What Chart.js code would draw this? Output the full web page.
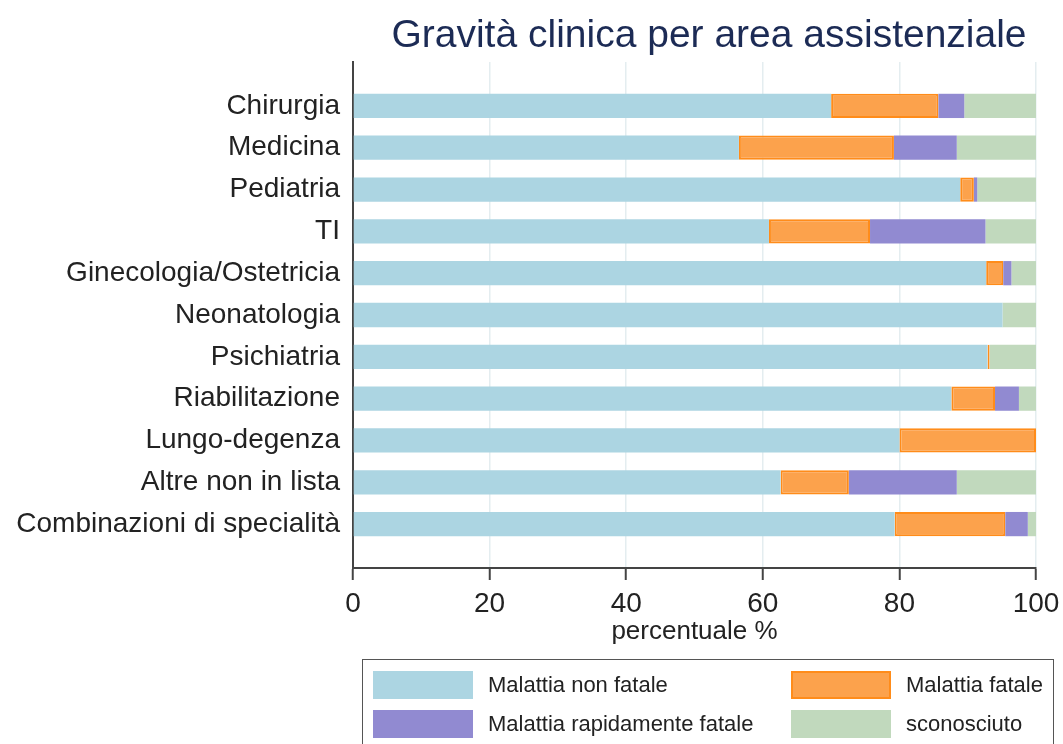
<!DOCTYPE html>
<html lang="it">
<head>
<meta charset="utf-8">
<title>Gravità clinica per area assistenziale</title>
<script src="https://cdn.jsdelivr.net/npm/chart.js@4.4.1/dist/chart.umd.min.js"></script>
<style>
  body { margin: 0; background: #fff; }
  #wrap { position: relative; width: 1063px; height: 744px; overflow: hidden; }
  #legenda {
    position: absolute; left: 362px; top: 659px; width: 692px; height: 110px;
    border: 1.5px solid #555; box-sizing: border-box;
    padding: 11px 0 0 10px;
    display: grid; grid-template-columns: 418px auto; row-gap: 11px;
    align-content: start;
    font-family: "Liberation Sans", Arial, sans-serif; font-size: 22px; color: #222;
  }
  .voce { display: flex; align-items: center; height: 28px; white-space: nowrap; }
  .campione { width: 100px; height: 28px; box-sizing: border-box; margin-right: 15px; }
</style>
</head>
<body>
<div id="wrap">
  <canvas id="grafico" width="1063" height="744"></canvas>
  <div id="legenda"></div>
</div>
<script>
// categorie (dall'alto in basso)
const categorie = [
  "Chirurgia", "Medicina", "Pediatria", "TI", "Ginecologia/Ostetricia",
  "Neonatologia", "Psichiatria", "Riabilitazione", "Lungo-degenza",
  "Altre non in lista", "Combinazioni di specialità"
];

// percentuali
const nonFatale   = [70.0, 56.5, 88.9, 60.9, 92.7, 95.1, 92.9, 87.6, 80.0, 62.6, 79.3];
const fatale      = [15.7, 22.7,  2.0, 14.8,  2.5,  0.0,  0.3,  6.4, 20.0, 10.0, 16.2];
const rapidamente = [ 3.8,  9.2,  0.5, 16.9,  1.2,  0.0,  0.0,  3.5,  0.0, 15.8,  3.3];
const sconosciuto = [10.5, 11.6,  8.6,  7.4,  3.6,  4.9,  6.8,  2.5,  0.0, 11.6,  1.2];

const tickX = [0, 20, 40, 60, 80, 100];

const FONT = "'Liberation Sans', Arial, sans-serif";

// la scala y è lineare per lasciare il margine sopra e sotto le barre
const punti = (valori) => valori.map((v, i) => ({ x: v, y: i }));

const serie = (label, valori, fill, bordo, spessore) => ({
  label,
  data: punti(valori),
  backgroundColor: fill,
  borderColor: bordo,
  borderWidth: spessore,
  borderSkipped: false,
  barPercentage: 0.58,
  categoryPercentage: 1.0,
});

// titolo disegnato a mano (non centrato sul canvas)
const titoloPlugin = {
  id: "titolo",
  afterDraw(chart) {
    const ctx = chart.ctx;
    ctx.save();
    ctx.font = "39px " + FONT;
    ctx.fillStyle = "#1c2b55";
    ctx.textAlign = "center";
    ctx.textBaseline = "middle";
    ctx.fillText("Gravità clinica per area assistenziale", 709, 36);
    ctx.restore();
  }
};

const chart = new Chart(document.getElementById("grafico"), {
  type: "bar",
  data: {
    datasets: [
      serie("Malattia non fatale", nonFatale, "#acd5e2", "#acd5e2", 0),
      serie("Malattia fatale", fatale, "#fca24c", "#ff8c1a", 2),
      serie("Malattia rapidamente fatale", rapidamente, "#918ad1", "#918ad1", 0),
      serie("sconosciuto", sconosciuto, "#c1d9bd", "#c1d9bd", 0),
    ],
  },
  options: {
    indexAxis: "y",
    responsive: false,
    animation: false,
    layout: { padding: { top: 62, left: 12, right: 27, bottom: 99 } },
    plugins: {
      legend: { display: false },
      title: { display: false },
    },
    scales: {
      x: {
        type: "linear",
        stacked: true,
        min: 0,
        max: 100,
        afterBuildTicks: (s) => { s.ticks = tickX.map((v) => ({ value: v })); },
        afterFit: (s) => { s.height = 77; s.paddingRight = 0; },
        grid: {
          color: "#e4edf0",
          lineWidth: 1.5,
          tickColor: "#444",
          tickLength: 12,
          tickWidth: 2,
        },
        border: { color: "#444", width: 2 },
        ticks: {
          padding: 7,
          color: "#222",
          font: { family: FONT, size: 28, lineHeight: 1.2 },
        },
        title: {
          display: true,
          text: "percentuale %",
          color: "#222",
          padding: 0,
          font: { family: FONT, size: 26, lineHeight: 1 },
        },
      },
      y: {
        type: "linear",
        stacked: true,
        reverse: true,
        offset: false,
        min: -1.05,
        max: categorie.length - 1 + 1.05,
        afterBuildTicks: (s) => { s.ticks = categorie.map((c, i) => ({ value: i })); },
        afterFit: (s) => { s.width = 341; },
        grid: { display: false, drawTicks: false, offset: false },
        border: { color: "#444", width: 2 },
        ticks: {
          autoSkip: false,
          padding: 13,
          color: "#222",
          font: { family: FONT, size: 28 },
          callback: (v) => categorie[v],
        },
      },
    },
  },
  plugins: [titoloPlugin],
});

// legenda HTML a due colonne, costruita dai dataset
const legenda = document.getElementById("legenda");
chart.data.datasets.forEach((ds) => {
  const voce = document.createElement("div");
  voce.className = "voce";
  const c = document.createElement("span");
  c.className = "campione";
  c.style.background = ds.backgroundColor;
  c.style.border = ds.borderWidth ? "2px solid " + ds.borderColor : "1px solid " + ds.borderColor;
  const t = document.createElement("span");
  t.textContent = ds.label;
  voce.appendChild(c);
  voce.appendChild(t);
  legenda.appendChild(voce);
});
</script>
</body>
</html>
